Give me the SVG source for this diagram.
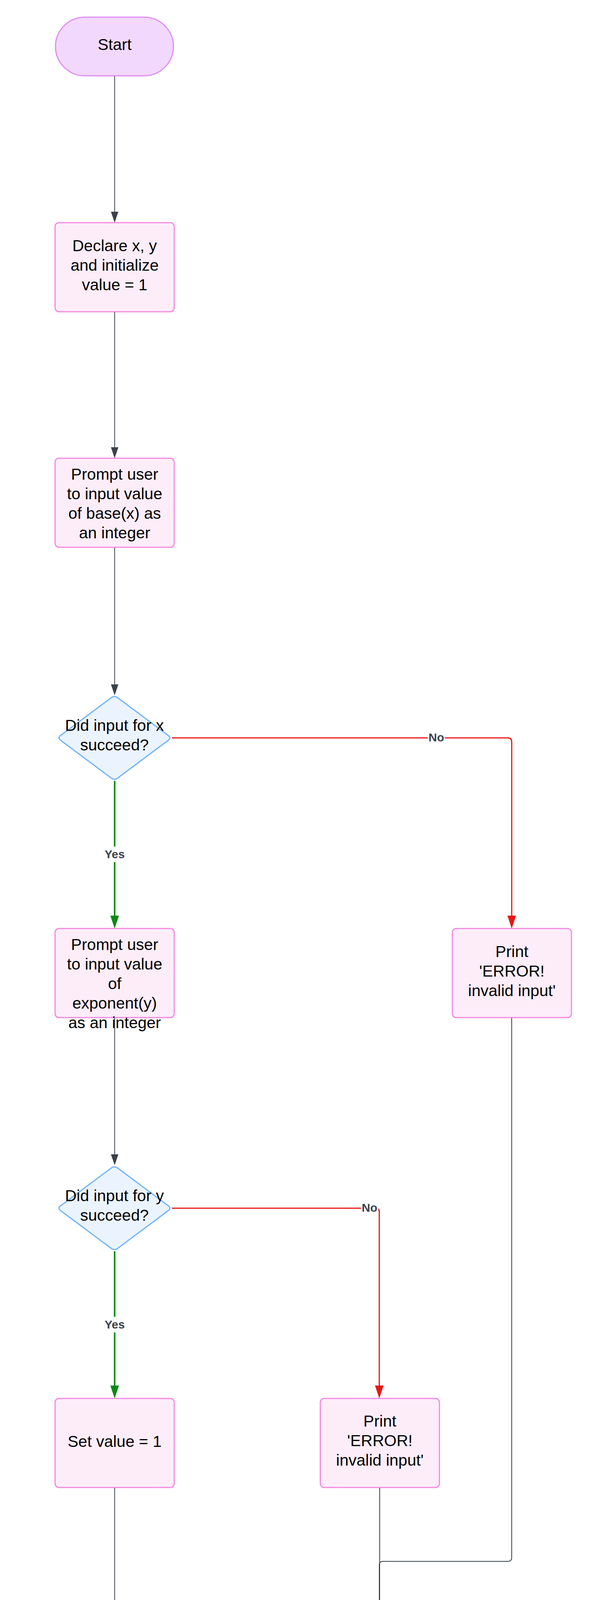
<svg xmlns="http://www.w3.org/2000/svg" width="1513" height="5619" viewBox="0 0 1513 5619">
<style>
.term{fill:#f2d8fd;stroke:#e08cf6;stroke-width:3}
.box{fill:#fdedf9;stroke:#f887e1;stroke-width:3}
.dia{fill:#ebf4fe;stroke:#6db3fa;stroke-width:3}
.t{font-family:"Liberation Sans",Arial,sans-serif;font-size:41px;fill:#000;text-anchor:middle}
.lbl{font-family:"Liberation Sans",Arial,sans-serif;font-size:30px;font-weight:bold;fill:#3a414a;text-anchor:middle}
.g{fill:none;stroke:#3a414a;stroke-width:2}
.gr{fill:none;stroke:#0b8a13;stroke-width:4}
.rd{fill:none;stroke:#e81616;stroke-width:3}
.lb{fill:#fff}
</style>
<defs>
<marker id="ag" markerUnits="userSpaceOnUse" markerWidth="28" markerHeight="19" viewBox="0 0 28 19" refX="2" refY="9.5" orient="auto"><path d="M0,0 L28,9.5 L0,19 Z" fill="#3a414a"/></marker>
<marker id="agr" markerUnits="userSpaceOnUse" markerWidth="33" markerHeight="22" viewBox="0 0 33 22" refX="2" refY="11" orient="auto"><path d="M0,0 L33,11 L0,22 Z" fill="#0b8a13"/></marker>
<marker id="ard" markerUnits="userSpaceOnUse" markerWidth="33" markerHeight="22" viewBox="0 0 33 22" refX="2" refY="11" orient="auto"><path d="M0,0 L33,11 L0,22 Z" fill="#e81616"/></marker>
<path id="diamond" d="M-8,-103 Q0,-109 8,-103 L138,-6 Q146,0 138,6 L8,103 Q0,109 -8,103 L-138,6 Q-146,0 -138,-6 Z"/>
</defs>
<rect width="1513" height="5619" fill="#fff"/>

<g id="start">
<rect class="term" x="142" y="44" width="302" height="150" rx="75" ry="75"/>
<text class="t" x="293.5" y="128">Start</text>
</g>
<g id="declare">
<rect class="box" x="141" y="570" width="305" height="228" rx="10"/>
<text class="t" x="293.5" y="643">Declare x, y</text>
<text class="t" x="293.5" y="693">and initialize</text>
<text class="t" x="293.5" y="743">value = 1</text>
</g>
<g id="prompt-x">
<rect class="box" x="141" y="1173" width="305" height="228" rx="10"/>
<text class="t" x="293.5" y="1228">Prompt user</text>
<text class="t" x="293.5" y="1278">to input value</text>
<text class="t" x="293.5" y="1328">of base(x) as</text>
<text class="t" x="293.5" y="1378">an integer</text>
</g>
<g id="check-x">
<use href="#diamond" class="dia" x="293" y="1889"/>
<text class="t" x="293" y="1871">Did input for x</text>
<text class="t" x="293" y="1921">succeed?</text>
</g>
<g id="prompt-y">
<rect class="box" x="141" y="2377" width="305" height="228" rx="10"/>
<text class="t" x="293.5" y="2432">Prompt user</text>
<text class="t" x="293.5" y="2482">to input value</text>
<text class="t" x="293.5" y="2532">of</text>
<text class="t" x="293.5" y="2582">exponent(y)</text>
<text class="t" x="293.5" y="2632">as an integer</text>
</g>
<g id="error-x">
<rect class="box" x="1158" y="2377" width="305" height="228" rx="10"/>
<text class="t" x="1310.5" y="2450">Print</text>
<text class="t" x="1310.5" y="2500">'ERROR!</text>
<text class="t" x="1310.5" y="2550">invalid input'</text>
</g>
<g id="check-y">
<use href="#diamond" class="dia" x="293" y="3093"/>
<text class="t" x="293" y="3075">Did input for y</text>
<text class="t" x="293" y="3125">succeed?</text>
</g>
<g id="set-value">
<rect class="box" x="141" y="3580" width="305" height="228" rx="10"/>
<text class="t" x="293.5" y="3704">Set value = 1</text>
</g>
<g id="error-y">
<rect class="box" x="820" y="3580" width="305" height="228" rx="10"/>
<text class="t" x="972.5" y="3652">Print</text>
<text class="t" x="972.5" y="3702">'ERROR!</text>
<text class="t" x="972.5" y="3752">invalid input'</text>
</g>
<g id="loop">
<rect class="box" x="141" y="4184" width="305" height="228" rx="10"/>
<text class="t" x="293.5" y="4240">For each</text>
<text class="t" x="293.5" y="4290">iteration from</text>
<text class="t" x="293.5" y="4340">1 to y,</text>
<text class="t" x="293.5" y="4390">multiply value</text>
<text class="t" x="293.5" y="4440">by x</text>
</g>
<g id="print-result">
<rect class="box" x="141" y="4788" width="305" height="228" rx="10"/>
<text class="t" x="293.5" y="4861">Print the</text>
<text class="t" x="293.5" y="4911">result: 'x^y =</text>
<text class="t" x="293.5" y="4960">value'</text>
</g>
<g id="end">
<rect class="term" x="143" y="5391" width="300" height="150" rx="75" ry="75"/>
<text class="t" x="293" y="5476">End</text>
</g>

<g id="connectors">
<path class="g" d="M293.5,195 V544" marker-end="url(#ag)"/>
<path class="g" d="M293.5,799 V1147" marker-end="url(#ag)"/>
<path class="g" d="M293.5,1402 V1754" marker-end="url(#ag)"/>
<path class="gr" d="M293.5,1999 V2346" marker-end="url(#agr)"/>
<path class="rd" d="M440,1889 H1300 Q1310,1889 1310,1899 V2346" marker-end="url(#ard)"/>
<path class="g" d="M293.5,2606 V2957" marker-end="url(#ag)"/>
<path class="gr" d="M293.5,3203 V3549" marker-end="url(#agr)"/>
<path class="rd" d="M440,3093 H961 Q971,3093 971,3103 V3549" marker-end="url(#ard)"/>
<path class="g" d="M293.5,3809 V4158" marker-end="url(#ag)"/>
<path class="g" d="M293.5,4413 V4762" marker-end="url(#ag)"/>
<path class="g" d="M293.5,5017 V5365" marker-end="url(#ag)"/>
<path class="g" d="M1310,2606 V3987 Q1310,3997 1300,3997 H981 Q971,3997 971,4007 V5456 Q971,5466 961,5466 H471" marker-end="url(#ag)"/>
<path class="g" d="M972,3809 V5456 Q972,5466 962,5466 H471" marker-end="url(#ag)"/>
<rect class="lb" x="264" y="2167" width="59" height="40"/>
<text class="lbl" x="293.5" y="2197">Yes</text>
<rect class="lb" x="264" y="3371" width="59" height="40"/>
<text class="lbl" x="293.5" y="3401">Yes</text>
<rect class="lb" x="1095" y="1870" width="44" height="36"/>
<text class="lbl" x="1117" y="1898">No</text>
<rect class="lb" x="924" y="3074" width="44" height="36"/>
<text class="lbl" x="946" y="3102">No</text>
</g>
</svg>
